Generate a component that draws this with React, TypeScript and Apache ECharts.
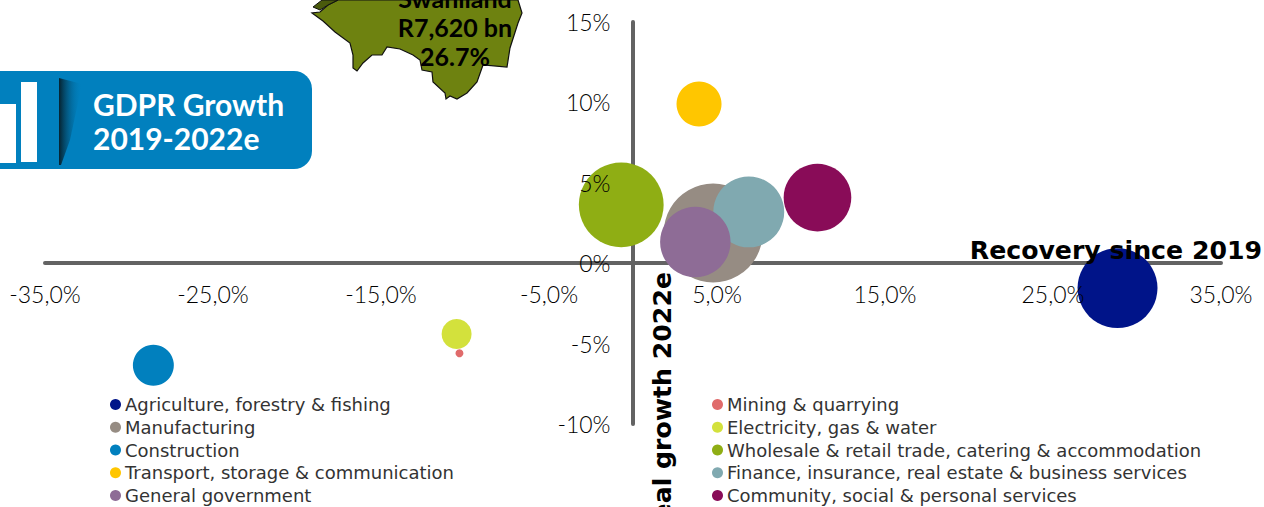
import React, { useEffect, useRef } from "react";
import * as echarts from "echarts";

const categories = [
  "Agriculture, forestry & fishing",
  "Mining & quarrying",
  "Manufacturing",
  "Electricity, gas & water",
  "Construction",
  "Wholesale & retail trade, catering & accommodation",
  "Transport, storage & communication",
  "Finance, insurance, real estate & business services",
  "General government",
  "Community, social & personal services",
];
const recovery = [28.84, -10.33, 4.77, -10.5, -28.55, -0.7, 3.93, 6.89, 3.71, 10.98];
const growth = [-1.55, -5.6, 1.88, -4.4, -6.35, 3.63, 9.9, 3.19, 1.32, 4.08];
const weights = [6.4, 0.064, 9.8, 0.9, 1.68, 7.2, 2.03, 5.04, 4.97, 4.58];
const colors = ["#001489", "#E06B6B", "#968C83", "#D3E13C", "#0180BE", "#8FAE14", "#FFC600", "#80A9B0", "#8E6C96", "#890C58"];
const legendLeft = [0, 2, 4, 6, 8].map((i) => categories[i]);
const legendRight = [1, 3, 5, 7, 9].map((i) => categories[i]);
const xTicks = [-35, -25, -15, -5, 5, 15, 25, 35];
const FONT = "'DejaVu Sans'";
const HEAD = "Lato";

const mapOutline = [[312,13],[323,21],[335,32],[350,43],[353,55],[353,68],[357,71],[363,63],[372,55],[382,55],[387,47],[400,49],[413,55],[420,60],[422,70],[432,72],[433,82],[445,93],[446,99],[450,96],[457,99],[467,93],[477,82],[483,65],[507,67],[510,48],[518,23],[522,13],[518,0],[338,0],[328,5],[320,12]];
const mapDark = [[322,0],[338,0],[328,5],[320,10],[313,7]];

export default function App() {
  const ref = useRef<HTMLDivElement>(null);
  useEffect(() => {
    document.body.style.margin = "0";
    const chart = echarts.init(ref.current!, null, { renderer: "svg" });
    const lineStyle = { color: "#636363", width: 4 };
    const labelStyle = { fontFamily: "Lato", fontSize: 23, color: "#000", fontWeight: 300 as any };
    const legendText = { fontFamily: FONT, fontSize: 18, color: "#333", height: 22.8, lineHeight: 22.8, padding: [0, 0, 0, -1] };
    const hidden = { axisLine: { show: false, onZero: false }, axisTick: { show: false }, axisLabel: { show: false }, splitLine: { show: false } };
    const bubbles = categories.map((name, i) => ({
      name,
      type: "scatter",
      xAxisIndex: 0,
      yAxisIndex: 0,
      z: 2 + (i === 8 ? 1 : 0),
      symbolSize: (d: number[]) => Math.sqrt(d[2]) * 31.6,
      itemStyle: { color: colors[i], opacity: 1 },
      data: [[recovery[i], growth[i], weights[i]]],
    }));
    chart.setOption({
      animation: false,
      backgroundColor: "#ffffff",
      grid: [
        { left: 45, right: 43, top: 22, bottom: 83 },
        { left: 45, right: 43, top: 22, height: 241 },
        { left: 632.5, right: 43, top: 22, bottom: 83 },
      ],
      xAxis: [
        { type: "value", gridIndex: 0, min: -35, max: 35, axisLine: { show: true, onZero: true, lineStyle }, axisTick: { show: false }, axisLabel: { show: false }, splitLine: { show: false }, z: 0 },
        { type: "value", gridIndex: 1, position: "bottom", min: -35, max: 35, axisLine: { show: false, onZero: false }, axisTick: { show: false }, splitLine: { show: false }, z: 6,
          axisLabel: { ...labelStyle, margin: 19, customValues: xTicks, formatter: (v: number) => v.toFixed(1).replace(".", ",") + "%" } },
        { type: "value", gridIndex: 2, min: 0, max: 35, ...hidden },
      ],
      yAxis: [
        { type: "value", gridIndex: 0, min: -10, max: 15, interval: 5, axisLine: { show: true, onZero: true, lineStyle }, axisTick: { show: false }, axisLabel: { show: false }, splitLine: { show: false }, z: 0 },
        { type: "value", gridIndex: 1, min: 0, max: 15, ...hidden },
        { type: "value", gridIndex: 2, position: "left", min: -10, max: 15, interval: 5, axisLine: { show: false, onZero: false }, axisTick: { show: false }, splitLine: { show: false }, z: 6,
          axisLabel: { ...labelStyle, margin: 22, formatter: (v: number) => v + "%" } },
      ],
      legend: [
        { data: legendLeft, orient: "vertical", left: 110, top: 393, itemWidth: 11, itemHeight: 11, itemGap: 0, icon: "circle", selectedMode: false, padding: 0, textStyle: legendText },
        { data: legendRight, orient: "vertical", left: 712, top: 393, itemWidth: 11, itemHeight: 11, itemGap: 0, icon: "circle", selectedMode: false, padding: 0, textStyle: legendText },
      ],
      series: bubbles,
      graphic: [
        { type: "polygon", z: 1, shape: { points: mapOutline }, style: { fill: "#6E8210", stroke: "#111", lineWidth: 1.2 } },
        { type: "polygon", z: 1, shape: { points: mapDark }, style: { fill: "#4A5A0C", stroke: "#111", lineWidth: 1 } },
        { type: "text", z: 7, x: 455, y: -2, style: { text: "Swaniland", fontFamily: HEAD, fontWeight: "bold", fontSize: 25, fill: "#000", align: "center", verticalAlign: "middle" } },
        { type: "text", z: 7, x: 455, y: 27, style: { text: "R7,620 bn", fontFamily: HEAD, fontWeight: "bold", fontSize: 25, fill: "#000", align: "center", verticalAlign: "middle" } },
        { type: "text", z: 7, x: 455, y: 56, style: { text: "26.7%", fontFamily: HEAD, fontWeight: "bold", fontSize: 25, fill: "#000", align: "center", verticalAlign: "middle" } },
        { type: "rect", z: 1, shape: { x: -30, y: 71, width: 342, height: 98, r: 18 }, style: { fill: "#0180BE" } },
        { type: "rect", z: 1, shape: { x: 0, y: 104, width: 16, height: 59 }, style: { fill: "#fff" } },
        { type: "rect", z: 1, shape: { x: 21, y: 82, width: 16, height: 80 }, style: { fill: "#fff" } },
        { type: "polygon", z: 1, shape: { points: [[59, 78], [82, 84], [70, 140], [61, 165], [59, 165]] },
          style: { fill: new echarts.graphic.LinearGradient(0, 0, 1, 0, [{ offset: 0, color: "#06222f" }, { offset: 1, color: "rgba(1,128,190,0)" }]) } },
        { type: "text", z: 7, x: 93, y: 104, style: { text: "GDPR Growth", fontFamily: HEAD, fontWeight: "bold", fontSize: 30, fill: "#fff", verticalAlign: "middle", shadowColor: "rgba(0,0,0,0.55)", shadowBlur: 3, shadowOffsetX: 1, shadowOffsetY: 2 } },
        { type: "text", z: 7, x: 93, y: 138, style: { text: "2019-2022e", fontFamily: HEAD, fontWeight: "bold", fontSize: 30, fill: "#fff", verticalAlign: "middle", shadowColor: "rgba(0,0,0,0.55)", shadowBlur: 3, shadowOffsetX: 1, shadowOffsetY: 2 } },
        { type: "text", z: 7, x: 1262, y: 250, style: { text: "Recovery since 2019", fontFamily: FONT, fontWeight: "bold", fontSize: 25.2, fill: "#000", align: "right", verticalAlign: "middle" } },
        { type: "text", z: 7, x: 662, y: 272, rotation: Math.PI / 2, style: { text: "Real growth 2022e", fontFamily: FONT, fontWeight: "bold", fontSize: 25.2, fill: "#000", align: "right", verticalAlign: "middle" } },
      ],
    });
    return () => chart.dispose();
  }, []);
  return <div ref={ref} style={{ width: 1264, height: 507 }} />;
}
